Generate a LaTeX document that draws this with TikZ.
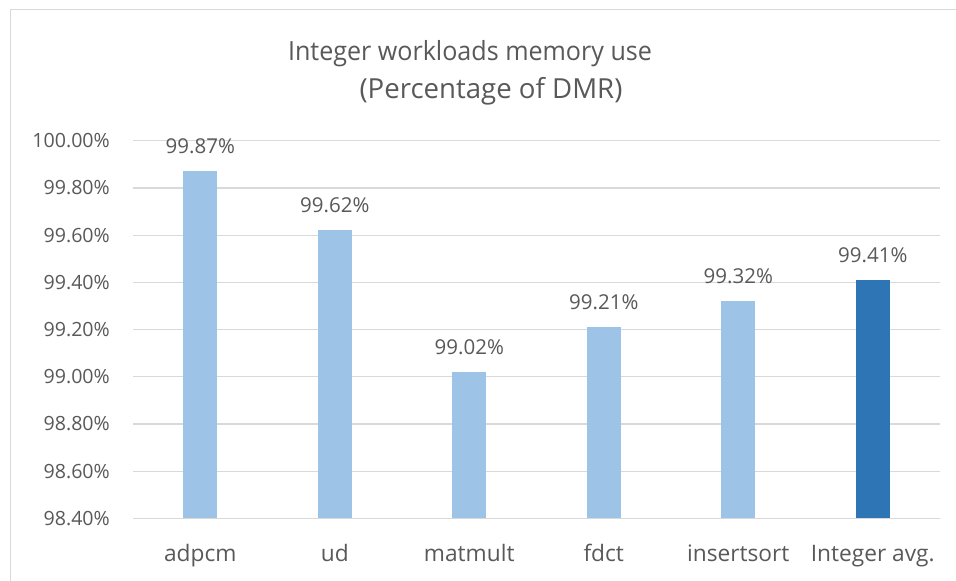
\documentclass[tikz,border=0pt]{standalone}
\usepackage{fontspec}
\setmainfont{Open Sans}
\newfontfamily\titlefont[FakeStretch=0.95]{Open Sans}
\definecolor{txt}{HTML}{595959}
\definecolor{grid}{HTML}{D9D9D9}
\definecolor{lightbar}{HTML}{9DC3E6}
\definecolor{darkbar}{HTML}{2E75B6}
\begin{document}
\begin{tikzpicture}[x=1pt,y=-1pt,
  ticklab/.style={anchor=east,inner sep=0pt,text=txt,font=\fontsize{19.6}{24}\selectfont},
  vallab/.style={anchor=center,inner sep=0pt,text=txt,font=\fontsize{20.5}{24}\selectfont},
  catlab/.style={anchor=base,inner sep=0pt,text=txt,font=\fontsize{22.7}{27}\selectfont},
  titlelab/.style={anchor=base,inner sep=0pt,text=txt},
  gridline/.style={draw=grid,line width=1.2pt},
  frame/.style={draw=grid,line width=1pt}]
\useasboundingbox (0,0) rectangle (956,581);
\fill[white] (0,0) rectangle (956,581);
% chart frame (left and top edges)
\draw[frame] (10.5,581) -- (10.5,9.5) -- (956,9.5);
% title
\node[titlelab,font=\titlefont\fontsize{26.4}{30}\selectfont] (title1) at (470,60) {Integer workloads memory use};
\node[titlelab,font=\fontsize{27.6}{32}\selectfont] (title2) at (491,98) {(Percentage of DMR)};
% horizontal gridlines and value axis labels
\foreach \k/\lab in {0/98.40\%,1/98.60\%,2/98.80\%,3/99.00\%,4/99.20\%,5/99.40\%,6/99.60\%,7/99.80\%,8/100.00\%}{
  \pgfmathsetmacro\gy{518.3-47.2*\k}
  \draw[gridline] (133,\gy) -- (940,\gy);
  \node[ticklab] (tick\k) at (110,\gy) {\lab};
}
% bars with value and category labels
\foreach \v/\lab/\col [count=\i] in {99.87/adpcm/lightbar,99.62/ud/lightbar,99.02/matmult/lightbar,99.21/fdct/lightbar,99.32/insertsort/lightbar,99.41/Integer avg./darkbar}{
  \pgfmathsetmacro\cx{133+134.5*(\i-0.5)}
  \pgfmathsetmacro\ytop{518.3-(\v-98.4)*236}
  \fill[\col] (\cx-17,518.3) rectangle (\cx+17,\ytop);
  \node[vallab] (val\i) at (\cx,\ytop-25) {\v\%};
  \node[catlab] (cat\i) at (\cx,561.5) {\lab};
}
\end{tikzpicture}
\end{document}
